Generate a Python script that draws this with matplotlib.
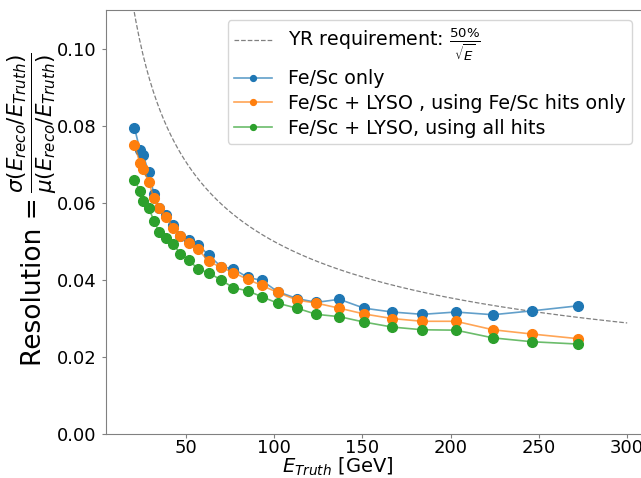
import numpy as np
import matplotlib
matplotlib.use("Agg")
import matplotlib.pyplot as plt

# Beam energies [GeV]
energy = [21, 24, 26, 29, 32, 35, 39, 43, 47, 52, 57, 63, 70, 77, 85, 93,
          102, 113, 124, 137, 151, 167, 184, 203, 224, 246, 272]

# Resolution values
res_fesc = [0.0795, 0.0738, 0.0723, 0.0679, 0.0624, 0.0587, 0.0569, 0.0543, 0.0515,
            0.0505, 0.0492, 0.0464, 0.0435, 0.0429, 0.0407, 0.0399, 0.0370, 0.0352,
            0.0342, 0.0350, 0.0327, 0.0317, 0.0311, 0.0317, 0.0310, 0.0320, 0.0333]
res_lyso_fesc = [0.0751, 0.0704, 0.0688, 0.0654, 0.0612, 0.0587, 0.0563, 0.0535, 0.0515,
                 0.0497, 0.0480, 0.0448, 0.0433, 0.0419, 0.0402, 0.0386, 0.0368, 0.0348,
                 0.0340, 0.0327, 0.0312, 0.0300, 0.0293, 0.0293, 0.0271, 0.0260, 0.0248]
res_lyso_all = [0.0660, 0.0631, 0.0605, 0.0587, 0.0554, 0.0524, 0.0508, 0.0493, 0.0468,
                0.0451, 0.0428, 0.0419, 0.0400, 0.0380, 0.0372, 0.0357, 0.0340, 0.0327,
                0.0311, 0.0305, 0.0291, 0.0278, 0.0271, 0.0270, 0.0250, 0.0240, 0.0234]

labels = ["Fe/Sc only",
          "Fe/Sc + LYSO , using Fe/Sc hits only",
          "Fe/Sc + LYSO, using all hits"]
colors = ["#1f77b4", "#ff7f0e", "#2ca02c"]

# YR requirement curve: 50%/sqrt(E)
e_yr = np.linspace(5, 300, 300)
yr = 0.5 / np.sqrt(e_yr)

fig = plt.figure(figsize=(6.41, 4.78), dpi=100)
ax = fig.add_axes([0.1649, 0.0914, 0.8557, 0.8877])

ax.plot(e_yr, yr, ls="--", color="gray", lw=0.9, label=r"YR requirement: $\frac{50\%}{\sqrt{E}}$")
for ys, lab, c in zip([res_fesc, res_lyso_fesc, res_lyso_all], labels, colors):
    rgba = matplotlib.colors.to_rgba(c, 0.7)
    ax.plot(energy, ys, "-o", color=rgba, lw=1.2, markersize=7,
            markerfacecolor=c, markeredgecolor=c, label=lab)

ax.set_xlim(4.7, 315.3)
ax.set_ylim(0, 0.11)
ax.set_xticks([50, 100, 150, 200, 250, 300])
ax.set_yticks([0.0, 0.02, 0.04, 0.06, 0.08, 0.10])
ax.tick_params(labelsize=13, color="gray", length=3)
ax.tick_params(axis="x", pad=0.5)
for s in ax.spines.values():
    s.set_color("gray")

ax.set_xlabel(r"$E_{Truth}$ [GeV]", fontsize=14)
ax.xaxis.set_label_coords(0.4235, -0.05)

# y label in two pieces so the fraction comes out at the reference size
fig.text(34 / 641, 1 - 366 / 478, "Resolution =", rotation=90, fontsize=19,
         ha="center", va="bottom")
fig.text(32 / 641, 1 - 193 / 478,
         r"$\frac{\sigma(E_{reco}/E_{Truth})}{\mu(E_{reco}/E_{Truth})}$",
         rotation=90, fontsize=22, ha="center", va="bottom")

ax.legend(loc="upper right", bbox_to_anchor=(632 / 641, 1 - 20 / 478),
          bbox_transform=fig.transFigure, borderaxespad=0, fontsize=13.7,
          markerscale=0.6, labelspacing=0.3, borderpad=0.35)

fig.savefig("out.png", dpi=100)
